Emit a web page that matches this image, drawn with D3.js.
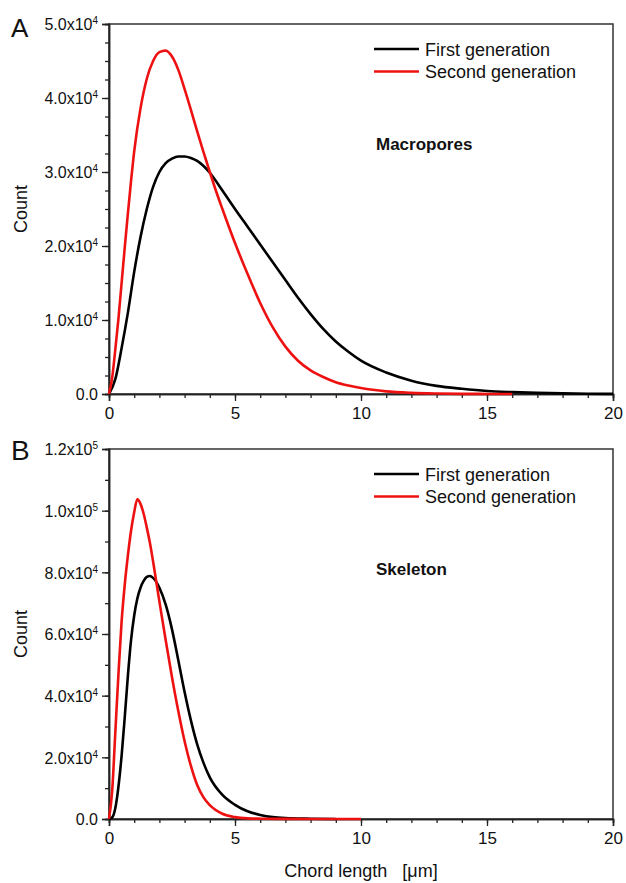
<!DOCTYPE html>
<html>
<head>
<meta charset="utf-8">
<script src="https://cdn.jsdelivr.net/npm/d3@7"></script>
<style>
  body { margin: 0; background: #fff; }
  text { font-family: "Liberation Sans", Arial, sans-serif; fill: #111; }
</style>
</head>
<body>
<svg id="chart"></svg>
<script>
// chord length distributions
var seriesNames = ["First generation", "Second generation"];
var seriesColors = ["#000000", "#ee1111"];
var xTicksMajor = [0, 5, 10, 15, 20];

// panel A - macropores (count in units of 1e4)
var macroFirstX = [0, 0.25, 0.5, 0.75, 1, 1.25, 1.5, 1.75, 2, 2.25, 2.5, 2.75, 3, 3.25, 3.5, 4, 4.5, 5, 5.5, 6, 6.5, 7, 7.5, 8, 8.5, 9, 9.5, 10, 11, 12, 13, 14, 15, 16, 17, 18, 19, 20];
var macroFirstY = [0, 0.2, 0.62, 1.1, 1.65, 2.12, 2.5, 2.8, 3.0, 3.12, 3.18, 3.21, 3.21, 3.19, 3.15, 2.99, 2.75, 2.5, 2.26, 2.02, 1.78, 1.54, 1.3, 1.08, 0.88, 0.71, 0.57, 0.45, 0.29, 0.18, 0.11, 0.07, 0.04, 0.025, 0.015, 0.008, 0.004, 0.002];
var macroSecondX = [0, 0.125, 0.25, 0.375, 0.5, 0.625, 0.75, 0.875, 1, 1.25, 1.5, 1.75, 2, 2.25, 2.5, 2.75, 3, 3.25, 3.5, 3.75, 4, 4.25, 4.5, 5, 5.5, 6, 6.5, 7, 7.5, 8, 8.5, 9, 9.5, 10, 11, 12, 13, 14, 15, 16];
var macroSecondY = [0, 0.22, 0.6, 1.02, 1.5, 1.98, 2.44, 2.88, 3.28, 3.86, 4.26, 4.5, 4.62, 4.64, 4.56, 4.38, 4.12, 3.84, 3.55, 3.27, 3.0, 2.74, 2.5, 2.04, 1.62, 1.23, 0.9, 0.64, 0.45, 0.32, 0.23, 0.16, 0.115, 0.08, 0.035, 0.015, 0.006, 0.002, 0.001, 0];

// panel B - skeleton (count in units of 1e4)
var skelFirstX = [0, 0.125, 0.25, 0.375, 0.5, 0.625, 0.75, 0.875, 1, 1.125, 1.25, 1.375, 1.5, 1.625, 1.75, 2, 2.25, 2.5, 2.75, 3, 3.25, 3.5, 3.75, 4, 4.5, 5, 5.5, 6, 6.5, 7, 8, 9];
var skelFirstY = [0, 0.05, 0.35, 1.05, 2.05, 3.3, 4.65, 5.8, 6.6, 7.15, 7.5, 7.72, 7.85, 7.88, 7.82, 7.5, 6.95, 6.15, 5.15, 4.12, 3.2, 2.42, 1.82, 1.35, 0.78, 0.46, 0.25, 0.13, 0.06, 0.03, 0.01, 0];
var skelSecondX = [0, 0.125, 0.25, 0.375, 0.5, 0.625, 0.75, 0.875, 1, 1.125, 1.25, 1.375, 1.5, 1.625, 1.75, 2, 2.25, 2.5, 2.75, 3, 3.25, 3.5, 3.75, 4, 4.5, 5, 5.5, 6, 7, 8, 10];
var skelSecondY = [0, 0.9, 2.8, 4.7, 6.4, 7.6, 8.55, 9.35, 9.95, 10.37, 10.22, 9.9, 9.45, 8.95, 8.35, 7.05, 5.8, 4.6, 3.5, 2.52, 1.72, 1.1, 0.7, 0.45, 0.17, 0.06, 0.02, 0.01, 0.004, 0.002, 0];

var macroYMax = 5, macroYMajor = 1, macroYMinor = 0.25;
var skelYMax = 12, skelYMajor = 2, skelYMinor = 1;

var svgW = 626;
var svgH = 883;
var plotLeft = 109;
var plotRight = 613;

var svg = d3.select("#chart")
  .attr("width", svgW)
  .attr("height", svgH);

var xScale = d3.scaleLinear().domain([0, 20]).range([plotLeft, plotRight]);

function pairUp(xs, ys){
  return xs.map(function(x, i){ return [x, ys[i] * 1e4]; });
}

function sciText(sel, v){
  if (v == 0){
    sel.text("0.0");
    return;
  }
  var e = Math.floor(Math.log10(v) + 1e-9);
  var m = v / Math.pow(10, e);
  sel.text(m.toFixed(1) + "x10");
  sel.append("tspan")
    .attr("dy", -6)
    .attr("font-size", 10)
    .text(e);
}

function drawPanel(opt){
  var top = opt.top, bottom = opt.bottom;
  var yMax = opt.yMax * 1e4;
  var yScale = d3.scaleLinear().domain([0, yMax]).range([bottom, top]);
  var g = svg.append("g");

  // frame
  g.append("rect")
    .attr("x", plotLeft)
    .attr("y", top)
    .attr("width", plotRight - plotLeft)
    .attr("height", bottom - top)
    .attr("fill", "none")
    .attr("stroke", "#333")
    .attr("stroke-width", 1.5);

  // x axis, minor then major
  var xMinor = d3.axisBottom(xScale).tickValues(d3.range(0, 21, 1)).tickSize(4).tickFormat("");
  var xMajor = d3.axisBottom(xScale).tickValues(xTicksMajor).tickSize(7).tickPadding(6).tickFormat(d3.format("d"));
  g.append("g").attr("transform", "translate(0," + bottom + ")").call(xMinor);
  var xa = g.append("g").attr("transform", "translate(0," + bottom + ")").call(xMajor);
  xa.selectAll("text").attr("font-size", 17).attr("font-family", null).attr("fill", "#111");

  // y axis
  var minorVals = d3.range(0, opt.yMax / opt.yMinor + 1).map(function(i){ return i * opt.yMinor * 1e4; });
  var majorVals = d3.range(0, opt.yMax / opt.yMajor + 1).map(function(i){ return i * opt.yMajor * 1e4; });
  var yMinor = d3.axisLeft(yScale).tickValues(minorVals).tickSize(4).tickFormat("");
  var yMajor = d3.axisLeft(yScale).tickValues(majorVals).tickSize(7).tickPadding(4).tickFormat("");
  g.append("g").attr("transform", "translate(" + plotLeft + ",0)").call(yMinor);
  var ya = g.append("g").attr("transform", "translate(" + plotLeft + ",0)").call(yMajor);
  ya.selectAll(".tick text")
    .attr("font-size", 16)
    .attr("font-family", null)
    .attr("fill", "#111")
    .attr("dy", "0.36em")
    .each(function(d){ sciText(d3.select(this), d); });

  svg.selectAll(".domain").attr("stroke", "#222").attr("stroke-width", 1.5);
  svg.selectAll(".tick line").attr("stroke", "#222").attr("stroke-width", 1.3);

  // curves
  var line = d3.line()
    .x(function(d){ return xScale(d[0]); })
    .y(function(d){ return yScale(d[1]); })
    .curve(d3.curveMonotoneX);

  opt.series.forEach(function(s, i){
    g.append("path")
      .datum(s)
      .attr("d", line)
      .attr("fill", "none")
      .attr("stroke", seriesColors[i])
      .attr("stroke-width", 2.6)
      .attr("stroke-linejoin", "round");
  });

  // legend
  seriesNames.forEach(function(name, i){
    var ly = top + 25 + i * 22.5;
    g.append("line")
      .attr("x1", 374).attr("x2", 419)
      .attr("y1", ly).attr("y2", ly)
      .attr("stroke", seriesColors[i])
      .attr("stroke-width", 2.4);
    g.append("text")
      .attr("x", 425)
      .attr("y", ly + 6.5)
      .attr("font-size", 18)
      .text(name);
  });

  g.append("text")
    .attr("x", 376)
    .attr("y", top + opt.tagDy)
    .attr("font-size", 17)
    .attr("font-weight", "bold")
    .text(opt.tag);

  // panel letter
  g.append("text")
    .attr("x", 11)
    .attr("y", opt.letterY)
    .attr("font-size", opt.letterSize)
    .text(opt.letter);

  // y label
  g.append("text")
    .attr("transform", "translate(27," + ((top + bottom) / 2) + ") rotate(-90)")
    .attr("text-anchor", "middle")
    .attr("font-size", 18)
    .text("Count");
}

drawPanel({
  top: 24, bottom: 394,
  yMax: macroYMax, yMajor: macroYMajor, yMinor: macroYMinor,
  series: [pairUp(macroFirstX, macroFirstY), pairUp(macroSecondX, macroSecondY)],
  tag: "Macropores", tagDy: 126,
  letter: "A", letterY: 37, letterSize: 26
});

drawPanel({
  top: 449, bottom: 819,
  yMax: skelYMax, yMajor: skelYMajor, yMinor: skelYMinor,
  series: [pairUp(skelFirstX, skelFirstY), pairUp(skelSecondX, skelSecondY)],
  tag: "Skeleton", tagDy: 126,
  letter: "B", letterY: 460, letterSize: 28
});

svg.append("text")
  .attr("x", (plotLeft + plotRight) / 2)
  .attr("y", 877)
  .attr("text-anchor", "middle")
  .attr("font-size", 18)
  .attr("xml:space", "preserve")
  .text("Chord length   [\u03bcm]");
</script>
</body>
</html>
